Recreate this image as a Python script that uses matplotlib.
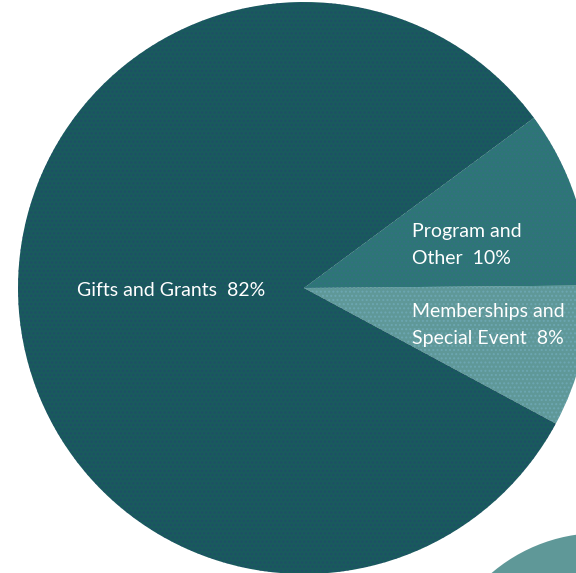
import matplotlib
matplotlib.use("Agg")
import matplotlib.pyplot as plt
from matplotlib.patches import Circle

# revenue shares (percent), drawn counter-clockwise from the lower right
labels = ["Memberships and\nSpecial Event  8%", "Program and\nOther  10%", "Gifts and Grants  82%"]
shares = [8, 10, 82]
colors = ["#5f9898", "#2d7676", "#195a5d"]
hatch_colors = ["#74aec0", "#3a6b8a", "#23486e"]

W, H = 576, 573
plt.rcParams["hatch.linewidth"] = 1.0

fig = plt.figure(figsize=(W / 100, H / 100), dpi=100)
ax = fig.add_axes([0, 0, 1, 1])

cx, cy, r = 304, H - 288, 286

# partial second pie peeking in at the bottom right
ax.add_patch(Circle((600, H - 700), 167, facecolor="#5f9898", edgecolor="none"))

wedges, _ = ax.pie(shares, colors=colors, startangle=-28.3, center=(cx, cy),
                   radius=r, frame=True)
for w, hc in zip(wedges, hatch_colors):
    w.set_edgecolor(matplotlib.colors.to_rgba(hc, 0.6))
    w.set_linewidth(0)
    w.set_hatch("....")

text_kw = dict(color="white", fontsize=14, family=["Lato", "DejaVu Sans"],
               va="center", ha="left", linespacing=1.78)
ax.text(77, H - 291, labels[2], **text_kw)
ax.text(412, H - 245, labels[1], **text_kw)
ax.text(412, H - 325, labels[0], **text_kw)

ax.set_xlim(0, W)
ax.set_ylim(0, H)
ax.set_aspect("equal")
ax.axis("off")

fig.savefig("out.png", dpi=100)
